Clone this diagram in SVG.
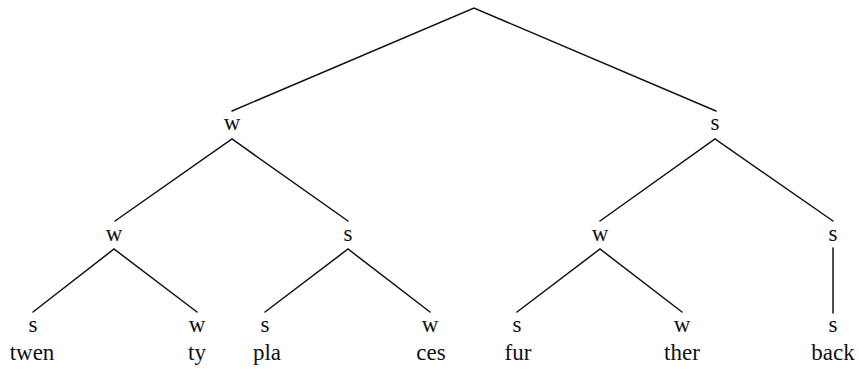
<svg xmlns="http://www.w3.org/2000/svg" width="859" height="369" viewBox="0 0 859 369">
<style>
.lbl{font-family:"Liberation Serif","Times New Roman",serif;font-size:23px;fill:#111;text-anchor:middle}
.wd{font-family:"Liberation Serif","Times New Roman",serif;font-size:23px;fill:#111;text-anchor:middle}
.edge{stroke:#111;stroke-width:1.5;fill:none;stroke-linecap:round}
</style>
<rect width="859" height="369" fill="#fff"/>
<g id="connectors">
<path class="edge" d="M232 111 L474 8 L716 111"/>
<path class="edge" d="M115 221 L232 139 L348 221"/>
<path class="edge" d="M600 221 L715 139 L833 221"/>
<path class="edge" d="M33 312 L114 249 L197 312"/>
<path class="edge" d="M265 312 L348 249 L430 312"/>
<path class="edge" d="M517 312 L600 249 L682 312"/>
<path class="edge" d="M833 248 L833 313"/>
</g>
<g id="n-w1"><text class="lbl" x="232" y="130">w</text></g>
<g id="n-s1"><text class="lbl" x="715" y="130">s</text></g>
<g id="n-w2"><text class="lbl" x="114" y="241">w</text></g>
<g id="n-s2"><text class="lbl" x="348" y="241">s</text></g>
<g id="n-w3"><text class="lbl" x="600" y="241">w</text></g>
<g id="n-s3"><text class="lbl" x="833" y="241">s</text></g>
<g id="n-twen"><text class="lbl" x="33" y="332">s</text><text class="wd" x="32" y="360">twen</text></g>
<g id="n-ty"><text class="lbl" x="197" y="332">w</text><text class="wd" x="197" y="360">ty</text></g>
<g id="n-pla"><text class="lbl" x="265" y="332">s</text><text class="wd" x="267" y="360">pla</text></g>
<g id="n-ces"><text class="lbl" x="430" y="332">w</text><text class="wd" x="431" y="360">ces</text></g>
<g id="n-fur"><text class="lbl" x="517" y="332">s</text><text class="wd" x="518" y="360">fur</text></g>
<g id="n-ther"><text class="lbl" x="682" y="332">w</text><text class="wd" x="682" y="360">ther</text></g>
<g id="n-back"><text class="lbl" x="833" y="332">s</text><text class="wd" x="833" y="360">back</text></g>
</svg>
